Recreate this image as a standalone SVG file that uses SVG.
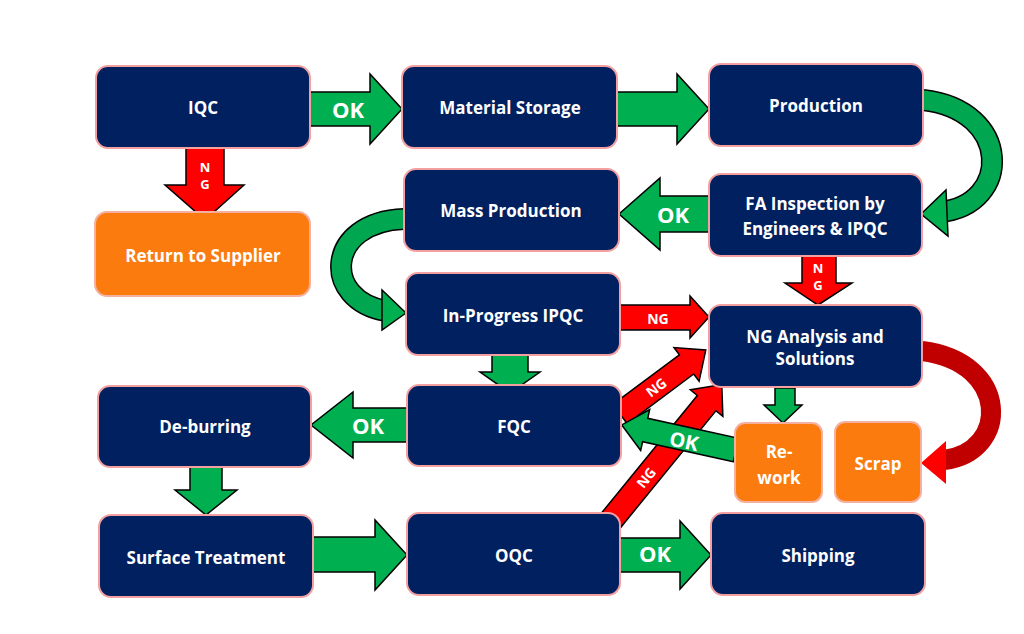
<svg xmlns="http://www.w3.org/2000/svg" width="1024" height="634" viewBox="0 0 1024 634">
<style>
.n{fill:#002060;stroke:#f4a0a0;stroke-width:2}
.o{fill:#fb7b0f;stroke:#f4b0a0;stroke-width:2}
.t{font-family:"Open Sans","Liberation Sans",sans-serif;font-weight:bold;font-size:17px;fill:#fff;text-anchor:middle;dominant-baseline:central}
.g{fill:#00b050;stroke:#000;stroke-width:1.5}
.r{fill:#ff0000;stroke:#000;stroke-width:1.5}
.l{font-family:"Open Sans","Liberation Sans",sans-serif;font-weight:bold;fill:#fff;text-anchor:middle;dominant-baseline:central}
</style>
<rect width="1024" height="634" fill="#fff"/>
<g id="connectors">
<polygon class="g" points="310,92 370,92 370,74 402,109 370,144 370,126 310,126"/>
<text class="l" x="348" y="109" font-size="22">OK</text>
<polygon class="g" points="617,92 677,92 677,74 709,109 677,144 677,126 617,126"/>
<polygon class="r" points="186,148 224,148 224,185 244,185 205,220 165,185 186,185"/>
<text class="l" x="205" y="167" font-size="13">N</text><text class="l" x="205" y="184" font-size="13">G</text>
<polygon class="g" points="709,196 660,196 660,178 619,214 660,250 660,232 709,232"/>
<text class="l" x="673" y="214" font-size="22">OK</text>
<polygon class="r" points="802,256 836,256 836,283 852,283 818,305 785,283 802,283"/>
<text class="l" x="818" y="268" font-size="13">N</text><text class="l" x="818" y="285" font-size="13">G</text>
<polygon class="r" points="620,305 690,305 690,296 709,317 690,338 690,330 620,330"/>
<text class="l" x="658" y="318" font-size="14">NG</text>
<polygon class="g" points="492,355 528,355 528,372 540,372 510,393 480,372 492,372"/>
<polygon class="g" points="407,408 353,408 353,392 311,425 353,458 353,442 407,442"/>
<text class="l" x="368" y="425" font-size="22">OK</text>
<polygon class="g" points="190,467 222,467 222,490 237,490 206,515 175,490 190,490"/>
<polygon class="g" points="313,537 375,537 375,520 407,555 375,590 375,572 313,572"/>
<polygon class="g" points="620,538 680,538 680,521 711,555 680,589 680,572 620,572"/>
<text class="l" x="655" y="553" font-size="22">OK</text>
<polygon class="g" points="775,388 795,388 795,405 802,405 783,423 764,405 775,405"/>
<g transform="translate(620,414) rotate(-36.7)"><polygon class="r" points="0,-12 83,-12 83,-21 107,0 83,21 83,12 0,12"/><text class="l" x="45" y="0" font-size="14">NG</text></g>
<g transform="translate(608,524) rotate(-50.8)"><polygon class="r" points="0,-12 156,-12 156,-21 180,0 156,21 156,12 0,12"/><text class="l" x="60" y="0" font-size="14">NG</text></g>
<g transform="translate(736,450) rotate(192.4)"><polygon class="g" points="0,-12 93,-12 93,-21 117,0 93,21 93,12 0,12"/></g>
<text class="l" x="684" y="441" font-size="20" transform="rotate(12 684 441)">OK</text>
<path d="M923,100 C1012,110 1012,205 940,212" fill="none" stroke="#000" stroke-width="22"/>
<path d="M923,100 C1012,110 1012,205 940,212" fill="none" stroke="#00a650" stroke-width="19"/>
<polygon class="g" points="921,214 946,190 948,236"/>
<path d="M404,219 C325,222 322,300 386,311" fill="none" stroke="#000" stroke-width="22"/>
<path d="M404,219 C325,222 322,300 386,311" fill="none" stroke="#00a650" stroke-width="19"/>
<polygon class="g" points="406,313 382,290 382,330"/>
<path d="M922,351 C1010,362 1010,452 944,460" fill="none" stroke="#c00000" stroke-width="20"/>
<polygon points="921,463 946,441 946,484" fill="#ff0000"/>
</g>
<g id="iqc"><rect class="n" x="96" y="66" width="214" height="82" rx="12"/><text class="t" x="203" y="107">IQC</text></g>
<g id="storage"><rect class="n" x="402" y="66" width="215" height="82" rx="12"/><text class="t" x="510" y="107">Material Storage</text></g>
<g id="production"><rect class="n" x="709" y="64" width="214" height="82" rx="12"/><text class="t" x="816" y="105">Production</text></g>
<g id="mass"><rect class="n" x="404" y="169" width="215" height="82" rx="12"/><text class="t" x="511" y="210">Mass Production</text></g>
<g id="fa"><rect class="n" x="709" y="174" width="213" height="82" rx="12"/><text class="t" x="815" y="203">FA Inspection by</text><text class="t" x="815" y="228">Engineers &amp; IPQC</text></g>
<g id="ipqc"><rect class="n" x="406" y="273" width="214" height="82" rx="12"/><text class="t" x="513" y="315">In-Progress IPQC</text></g>
<g id="nga"><rect class="n" x="709" y="305" width="213" height="82" rx="12"/><text class="t" x="815" y="336" font-size="15">NG Analysis and</text><text class="t" x="815" y="358" font-size="15">Solutions</text></g>
<g id="return"><rect class="o" x="95" y="212" width="215" height="84" rx="12"/><text class="t" x="203" y="255">Return to Supplier</text></g>
<g id="deburr"><rect class="n" x="98" y="386" width="213" height="81" rx="12"/><text class="t" x="205" y="426">De-burring</text></g>
<g id="fqc"><rect class="n" x="407" y="385" width="214" height="81" rx="12"/><text class="t" x="514" y="426">FQC</text></g>
<g id="rework"><rect class="o" x="735" y="423" width="87" height="79" rx="10"/><text class="t" x="779" y="451">Re-</text><text class="t" x="779" y="477">work</text></g>
<g id="scrap"><rect class="o" x="835" y="422" width="86" height="80" rx="10"/><text class="t" x="878" y="463">Scrap</text></g>
<g id="surface"><rect class="n" x="99" y="515" width="214" height="82" rx="12"/><text class="t" x="206" y="557">Surface Treatment</text></g>
<g id="oqc"><rect class="n" x="407" y="513" width="213" height="82" rx="12"/><text class="t" x="514" y="555">OQC</text></g>
<g id="shipping"><rect class="n" x="711" y="513" width="214" height="82" rx="12"/><text class="t" x="818" y="555">Shipping</text></g>
</svg>
